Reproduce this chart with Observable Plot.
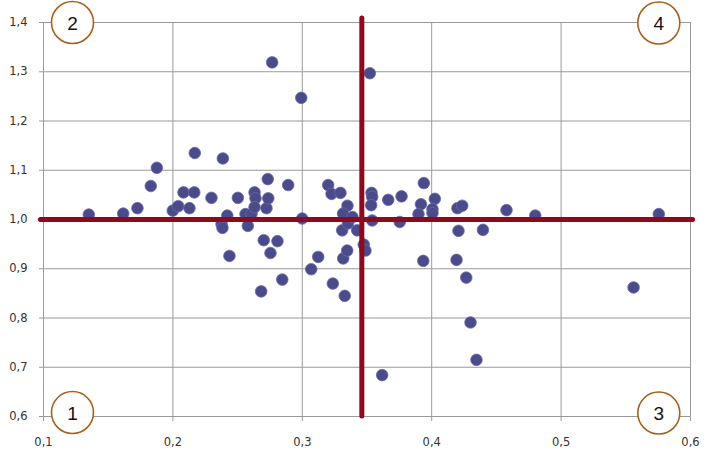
<!DOCTYPE html>
<html>
<head>
<meta charset="utf-8">
<script src="https://cdn.jsdelivr.net/npm/d3@7"></script>
<script src="https://cdn.jsdelivr.net/npm/@observablehq/plot@0.6"></script>
<style>
  html, body { margin: 0; padding: 0; background: #fff; }
</style>
</head>
<body>
<div id="chart"></div>
<script>
// Scatter data
const xValues = [
  0.135, 0.1616, 0.1726, 0.1829, 0.1876, 0.2169, 0.2386, 0.1999, 0.2041, 0.2082,
  0.2165, 0.2128, 0.2298, 0.2376, 0.2383, 0.2420, 0.2437, 0.2502, 0.2561, 0.2607,
  0.2579, 0.2631, 0.2638, 0.2631, 0.2723, 0.2737, 0.2733, 0.2702, 0.2808, 0.2754,
  0.2682, 0.2845, 0.2891, 0.2999, 0.2767, 0.2992, 0.3069, 0.3123, 0.3200, 0.3226,
  0.3295, 0.3236, 0.3328, 0.3316, 0.3308, 0.3349, 0.3315, 0.3353, 0.3347, 0.3388,
  0.3424, 0.3475, 0.3488, 0.3522, 0.3535, 0.3540, 0.3532, 0.3540, 0.3617, 0.3664,
  0.3767, 0.3753, 0.3939, 0.3917, 0.3898, 0.4024, 0.4006, 0.4006, 0.3935, 0.4199,
  0.4236, 0.4207, 0.4396, 0.4192, 0.4267, 0.4300, 0.4346, 0.4578, 0.4800, 0.5560,
  0.5755
];
const yValues = [
  1.010, 1.012, 1.023, 1.068, 1.105, 1.135, 1.124, 1.018, 1.027, 1.055,
  1.055, 1.023, 1.044, 0.991, 0.983, 1.008, 0.926, 1.044, 1.011, 1.011,
  0.987, 1.055, 1.043, 1.025, 1.023, 1.043, 1.082, 0.958, 0.956, 0.932,
  0.854, 0.878, 1.070, 1.002, 1.319, 1.247, 0.899, 0.924, 1.070, 1.052,
  1.054, 0.870, 0.845, 0.921, 0.978, 1.028, 1.012, 0.992, 0.937, 1.005,
  0.978, 0.949, 0.937, 1.297, 1.054, 1.046, 1.029, 0.998, 0.684, 1.040,
  1.047, 0.995, 1.074, 1.031, 1.011, 1.042, 1.021, 1.013, 0.916, 1.023,
  1.028, 0.977, 0.979, 0.918, 0.882, 0.791, 0.715, 1.019, 1.008, 0.862,
  1.011
];
const xTicks = [0.1, 0.2, 0.3, 0.4, 0.5, 0.6];
const yTicks = [0.6, 0.7, 0.8, 0.9, 1.0, 1.1, 1.2, 1.3, 1.4];
const xThreshold = 0.346;
const yThreshold = 1.0;
const quadrantLabels = ["1", "2", "3", "4"];
const quadrantX = [0.1224, 0.1224, 0.5755, 0.5755];
const quadrantY = [0.608, 1.4, 0.607, 1.399];

const points = xValues.map((x, i) => ({x, y: yValues[i]}));
const quadrants = quadrantLabels.map((label, i) => ({label, x: quadrantX[i], y: quadrantY[i]}));
const fmt = d => d.toFixed(1).replace(".", ",");

const redColor = "#8c0a1e";
const chart = Plot.plot({
  width: 709,
  height: 457,
  marginLeft: 43,
  marginRight: 19,
  marginTop: 22,
  marginBottom: 41,
  style: {fontFamily: "DejaVu Sans", fontSize: "11.5px", color: "#333", background: "#fff"},
  x: {domain: [0.1, 0.6], ticks: xTicks, tickFormat: fmt, tickSize: 5, tickPadding: 16, label: null},
  y: {domain: [0.6, 1.4], ticks: yTicks, tickFormat: fmt, tickSize: 4, tickPadding: 12, label: null},
  marks: [
    Plot.gridX(xTicks, {stroke: "#9a9a9a", strokeOpacity: 1}),
    Plot.gridY(yTicks, {stroke: "#9a9a9a", strokeOpacity: 1}),
    Plot.axisX({ticks: xTicks, tickFormat: fmt, tickSize: 5, tickPadding: 16, stroke: "#9a9a9a", fill: "#333", label: null}),
    Plot.axisY({ticks: yTicks, tickFormat: fmt, tickSize: 4, tickPadding: 12, stroke: "#9a9a9a", fill: "#333", label: null}),
    Plot.dot(points, {x: "x", y: "y", r: 5.8, fill: "#4b4a8b", stroke: "#6a69a6", strokeWidth: 0.8}),
    Plot.ruleY([yThreshold], {x1: 0.098, x2: 0.602, stroke: redColor, strokeWidth: 5, strokeLinecap: "round"}),
    Plot.ruleX([xThreshold], {y1: 0.6, y2: 1.408, stroke: redColor, strokeWidth: 5, strokeLinecap: "round"}),
    Plot.dot(quadrants, {x: "x", y: "y", r: 21, fill: "#fff", stroke: "#a8601e", strokeWidth: 1.6}),
    Plot.text(quadrants, {x: "x", y: "y", text: "label", fontSize: 19, fontFamily: "Liberation Sans", fill: "#111", dy: 1})
  ]
});
document.getElementById("chart").appendChild(chart);
</script>
</body>
</html>
